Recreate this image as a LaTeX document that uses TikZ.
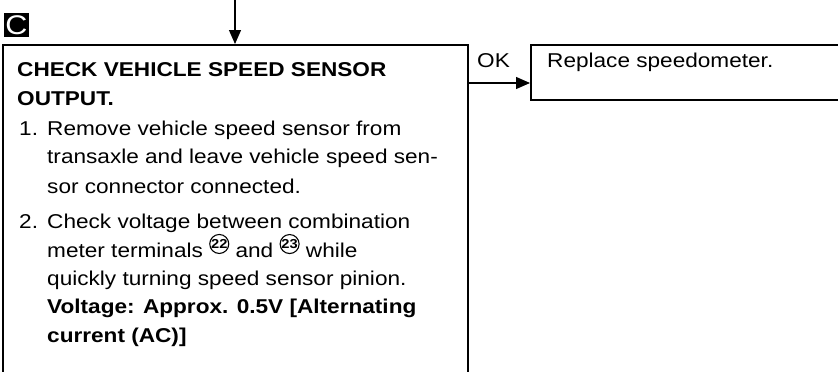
\documentclass[tikz,border=0pt]{standalone}
\usepackage{fontspec}
\setmainfont[FakeStretch=1.13]{Liberation Sans}
\usetikzlibrary{arrows.meta}
\newcommand{\cnum}[1]{\tikz[baseline=-8.5pt]\node[draw,circle,line width=1.1pt,minimum size=19pt,inner sep=0pt,font=\fontsize{13}{13}\selectfont\bfseries](cn){#1};}
\begin{document}
\begin{tikzpicture}[x=1pt,y=-1pt,
  box/.style={draw,line width=1.5pt,inner sep=0pt},
  arr/.style={line width=1.2pt,-{Triangle[length=14pt,width=12pt]}},
  txt/.style={inner sep=0pt,anchor=base west,font=\fontsize{20}{24}\selectfont},
  btxt/.style={txt,font=\fontsize{20}{24}\selectfont\bfseries}]
\useasboundingbox (0,0) rectangle (838,372);
\clip (0,0) rectangle (838,372);
\node[box,minimum width=465pt,minimum height=360pt,anchor=north west] (main) at (2,44) {};
\node[box,minimum width=360pt,minimum height=55pt,anchor=north west] (rep) at (530,44) {};
\node[fill=black,text=white,font=\fontsize{27}{27}\selectfont,minimum width=25pt,minimum height=24pt,inner sep=0pt] (lab) at (16.5,25) {C};
\coordinate (src) at (235,0);
\draw[arr] (src) -- (src |- main.north);
\coordinate (oky) at (0,83);
\draw[arr] (main.north east |- oky) -- (rep.north west |- oky);
\node[txt] (ok) at (477,67) {OK};
\node[txt] (reptxt) at (547,67) {Replace speedometer.};
\node[btxt] (t1) at (17,76) {CHECK VEHICLE SPEED SENSOR};
\node[btxt] (t2) at (17,105) {OUTPUT.};
\node[txt] (n1) at (19,135) {1.};
\node[txt] (a1) at (47,135) {Remove vehicle speed sensor from};
\node[txt] (a2) at (47,163) {transaxle and leave vehicle speed sen-};
\node[txt] (a3) at (47,193) {sor connector connected.};
\node[txt] (n2) at (19,228) {2.};
\node[txt] (b1) at (47,228) {Check voltage between combination};
\node[txt] (b2) at (47,257) {meter terminals \cnum{22} and \cnum{23} while};
\node[txt] (b3) at (47,285) {quickly turning speed sensor pinion.};
\node[btxt] (b4) at (47,313) {Voltage: Approx. 0.5V [Alternating};
\node[btxt] (b5) at (47,342) {current (AC)]};
\end{tikzpicture}
\end{document}
